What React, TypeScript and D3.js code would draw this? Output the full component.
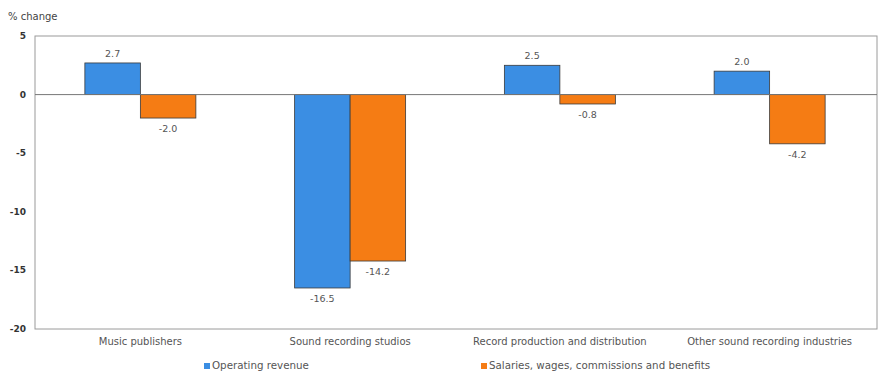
import React from "react";
import * as d3 from "d3";

const categories = ["Music publishers", "Sound recording studios", "Record production and distribution", "Other sound recording industries"];
const seriesNames = ["Operating revenue", "Salaries, wages, commissions and benefits"];
const operatingRevenue = [2.7, -16.5, 2.5, 2.0];
const salaries = [-2.0, -14.2, -0.8, -4.2];
const yTicks = [5, 0, -5, -10, -15, -20];
const colors = ["#3b8ee3", "#f57c14"];

export default function App() {
  const W = 881, H = 373;
  const left = 35, right = 877, top = 36, bottom = 329;
  const x = d3.scaleBand<string>().domain(categories).range([left, 874]).paddingInner(0).paddingOuter(0);
  const y = d3.scaleLinear().domain([-20, 5]).range([bottom, top]);
  const barW = 55.5;
  const series = [operatingRevenue, salaries];
  const font = "DejaVu Sans, Verdana, sans-serif";
  return (
    <svg width={W} height={H} style={{ position: "absolute", left: 0, top: 0, background: "#fff" }} fontFamily={font}>
      <text x={8} y={20} fontSize={10} fill="#444">% change</text>
      <rect x={left} y={top} width={right - left} height={bottom - top} fill="none" stroke="#9a9a9a" strokeWidth={1} />
      {yTicks.map((t) => (
        <text key={t} x={26} y={y(t) + 3} fontSize={9} fontWeight="bold" textAnchor="end" fill="#333">{t}</text>
      ))}
      {categories.map((c, i) => {
        const cx = (x(c) as number) + x.bandwidth() / 2 + 0.5;
        return (
          <g key={c}>
            {series.map((s, k) => {
              const v = s[i];
              const x0 = cx - barW + k * barW;
              const y0 = y(Math.max(0, v));
              const h = Math.abs(y(v) - y(0));
              const ly = v >= 0 ? y(v) - 6 : y(v) + 14;
              return (
                <g key={k}>
                  <rect x={x0} y={y0} width={barW} height={h} fill={colors[k]} stroke="#3a3a3a" strokeWidth={0.8} />
                  <text x={x0 + barW / 2} y={ly} fontSize={9.5} textAnchor="middle" fill="#555">{v.toFixed(1)}</text>
                </g>
              );
            })}
            <text x={cx} y={345} fontSize={10} textAnchor="middle" fill="#555">{c}</text>
          </g>
        );
      })}
      <line x1={left} x2={right} y1={y(0)} y2={y(0)} stroke="#777" strokeWidth={1} />
      {seriesNames.map((n, k) => {
        const lx = k === 0 ? 204 : 481;
        return (
          <g key={n}>
            <rect x={lx} y={363} width={6} height={6} fill={colors[k]} />
            <text x={lx + 8} y={369} fontSize={10.3} fill="#555">{n}</text>
          </g>
        );
      })}
    </svg>
  );
}
